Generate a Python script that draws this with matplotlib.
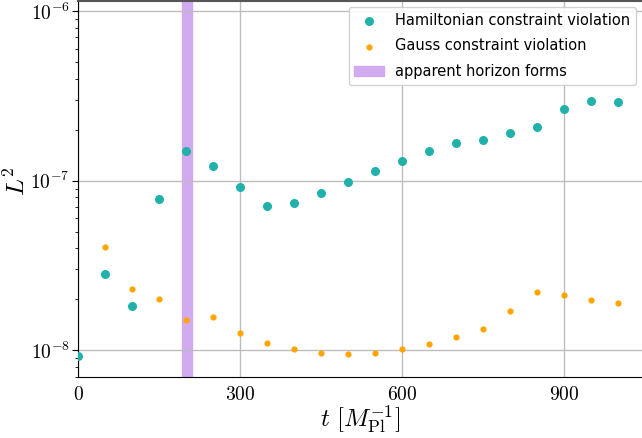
import matplotlib
matplotlib.use("Agg")
import matplotlib.pyplot as plt
import numpy as np
from matplotlib.ticker import FixedLocator, FuncFormatter

plt.rcParams["mathtext.fontset"] = "cm"

time_ham = [0, 50, 100, 150, 200, 250, 300, 350, 400, 450, 500,
            550, 600, 650, 700, 750, 800, 850, 900, 950, 1000]
ham_violation = [9.2e-9, 2.83e-8, 1.82e-8, 7.76e-8, 1.49e-7, 1.22e-7, 9.18e-8,
                 7.13e-8, 7.39e-8, 8.5e-8, 9.87e-8, 1.14e-7, 1.31e-7, 1.49e-7,
                 1.67e-7, 1.75e-7, 1.90e-7, 2.07e-7, 2.65e-7, 2.94e-7, 2.92e-7]

time_gauss = [50, 100, 150, 200, 250, 300, 350, 400, 450, 500,
              550, 600, 650, 700, 750, 800, 850, 900, 950, 1000]
gauss_violation = [4.05e-8, 2.31e-8, 2.0e-8, 1.51e-8, 1.57e-8, 1.26e-8, 1.10e-8,
                   1.02e-8, 0.965e-8, 0.956e-8, 0.968e-8, 1.02e-8, 1.09e-8,
                   1.20e-8, 1.34e-8, 1.71e-8, 2.21e-8, 2.13e-8, 1.99e-8, 1.91e-8]

horizon_window = (193, 212)
x_ticks = [0, 300, 600, 900]
y_ticks = [1e-8, 1e-7, 1e-6]


def main() -> None:
    fig = plt.figure(figsize=(6.42, 4.38), dpi=100)
    ax = fig.add_axes([0.1215, 0.139, 0.8785, 0.859])

    ax.grid(True, color="#bdbdbd", linewidth=1.0, zorder=0)
    ax.axvspan(*horizon_window, color="#d2aaf0", zorder=1,
               label="apparent horizon forms")
    ax.scatter(time_ham, ham_violation, s=30, color="#20b2aa", zorder=3,
               label="Hamiltonian constraint violation")
    ax.scatter(time_gauss, gauss_violation, s=12, color="#ffa500", zorder=3,
               label="Gauss constraint violation")

    ax.set_yscale("log")
    ax.set_xlim(0, 1045)
    ax.set_ylim(6.95e-9, 1.15e-6)
    ax.xaxis.set_major_locator(FixedLocator(x_ticks))
    ax.xaxis.set_major_formatter(FuncFormatter(lambda v, p: f"${int(v)}$"))
    ax.yaxis.set_major_locator(FixedLocator(y_ticks))
    ax.yaxis.set_major_formatter(
        FuncFormatter(lambda v, p: f"$10^{{{int(round(np.log10(v)))}}}$"))
    ax.tick_params(axis="y", which="major", labelsize=14, length=4, pad=2)
    ax.tick_params(axis="y", which="minor", length=2)
    ax.tick_params(axis="x", labelsize=14, length=0, pad=6)

    ax.set_xlabel(r"$t\ [M_{\rm Pl}^{-1}]$", fontsize=18, labelpad=0)
    ax.set_ylabel(r"$L^2$", fontsize=18)
    ax.yaxis.set_label_coords(-0.085, 0.52)

    ax.spines["right"].set_visible(False)
    ax.spines["top"].set_color("#555555")
    ax.spines["top"].set_linewidth(1.5)
    ax.spines["left"].set_color("black")
    ax.spines["bottom"].set_color("black")

    handles, labels = ax.get_legend_handles_labels()
    order = [1, 2, 0]
    ax.legend([handles[i] for i in order], [labels[i] for i in order],
              loc="upper right", fontsize=10.5, framealpha=0.9,
              borderaxespad=0.4, labelspacing=0.75)

    fig.savefig("out.png", dpi=100)
    plt.close(fig)


if __name__ == "__main__":
    main()
